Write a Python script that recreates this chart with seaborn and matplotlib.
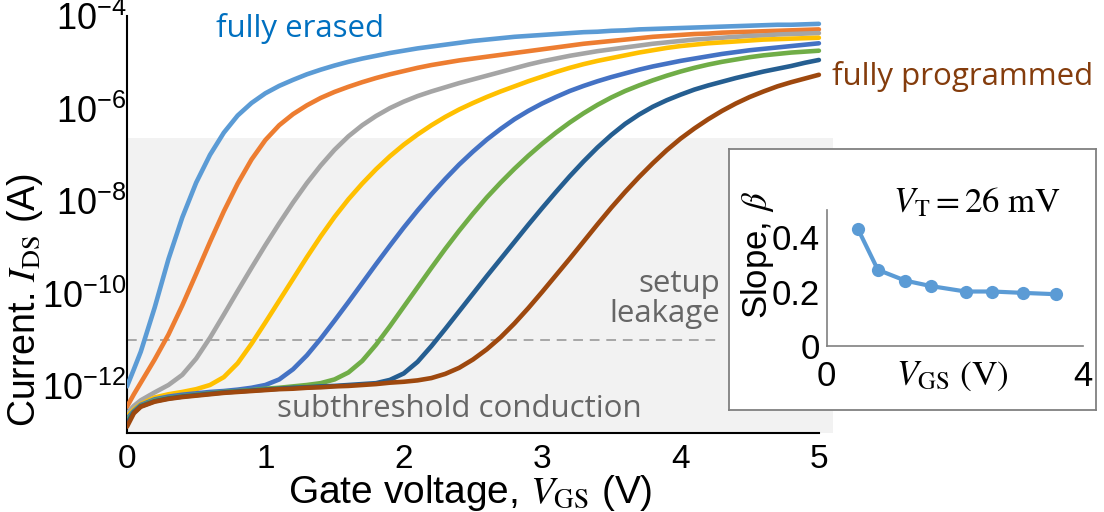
import numpy as np
import pandas as pd
import matplotlib
matplotlib.use("Agg")
import matplotlib.pyplot as plt
import seaborn as sns
from matplotlib.ticker import NullLocator

# ---------------------------------------------------------------- data
# gate sweep (V): one extra point at 0.05 V, then 0.1 V steps
vgs = np.concatenate([[0.0, 0.05], np.linspace(0.1, 5.0, 50)])

# log10 of drain current (A) for each programming state
log_ids_erased = [-12.0, -11.63, -11.25, -10.3, -9.25, -8.35, -7.6, -7.0, -6.52, -6.15, -5.88,
                  -5.67, -5.51, -5.38, -5.26, -5.16, -5.07, -4.99, -4.92, -4.86, -4.80,
                  -4.75, -4.70, -4.66, -4.62, -4.58, -4.54, -4.51, -4.48, -4.45, -4.43,
                  -4.41, -4.39, -4.37, -4.35, -4.34, -4.32, -4.31, -4.29, -4.28, -4.27,
                  -4.26, -4.25, -4.24, -4.23, -4.22, -4.21, -4.20, -4.19, -4.19, -4.18, -4.17]
log_ids_s2 = [-12.44, -12.17, -11.92, -11.42, -10.88, -10.25, -9.57, -8.88, -8.22, -7.62, -7.1,
              -6.68, -6.36, -6.12, -5.93, -5.77, -5.64, -5.53, -5.43, -5.34, -5.26,
              -5.19, -5.12, -5.06, -5.01, -4.96, -4.92, -4.88, -4.84, -4.80, -4.76,
              -4.72, -4.68, -4.64, -4.60, -4.57, -4.54, -4.51, -4.48, -4.45, -4.43,
              -4.41, -4.39, -4.38, -4.36, -4.35, -4.34, -4.33, -4.32, -4.31, -4.30, -4.29]
log_ids_s3 = [-12.58, -12.42, -12.3, -12.13, -11.97, -11.75, -11.4, -10.95, -10.45, -9.94, -9.44,
              -8.95, -8.48, -8.03, -7.61, -7.23, -6.89, -6.6, -6.36, -6.16, -5.99,
              -5.85, -5.73, -5.63, -5.54, -5.45, -5.37, -5.29, -5.21, -5.13, -5.05,
              -4.98, -4.92, -4.86, -4.81, -4.76, -4.72, -4.68, -4.64, -4.60, -4.57,
              -4.54, -4.51, -4.49, -4.47, -4.45, -4.43, -4.42, -4.40, -4.39, -4.38, -4.37]
log_ids_s4 = [-12.65, -12.5, -12.38, -12.24, -12.17, -12.12, -12.06, -11.97, -11.8, -11.5, -11.08,
              -10.62, -10.15, -9.68, -9.21, -8.76, -8.34, -7.96, -7.62, -7.31, -7.03,
              -6.78, -6.56, -6.36, -6.18, -6.02, -5.88, -5.75, -5.63, -5.52, -5.41,
              -5.31, -5.21, -5.12, -5.04, -4.97, -4.91, -4.85, -4.79, -4.74, -4.69,
              -4.65, -4.62, -4.59, -4.57, -4.55, -4.53, -4.51, -4.50, -4.49, -4.48, -4.47]
log_ids_s5 = [-12.7, -12.53, -12.4, -12.28, -12.22, -12.18, -12.15, -12.12, -12.1, -12.07, -12.03,
              -11.97, -11.85, -11.63, -11.33, -10.97, -10.58, -10.18, -9.77, -9.36, -8.96,
              -8.57, -8.2, -7.85, -7.52, -7.21, -6.93, -6.67, -6.44, -6.23, -6.05,
              -5.89, -5.75, -5.62, -5.51, -5.41, -5.32, -5.24, -5.16, -5.09, -5.03,
              -4.97, -4.92, -4.87, -4.82, -4.78, -4.74, -4.71, -4.68, -4.65, -4.62, -4.59]
log_ids_s6 = [-12.75, -12.55, -12.42, -12.3, -12.25, -12.21, -12.18, -12.15, -12.12, -12.1, -12.08,
              -12.05, -12.03, -12.0, -11.97, -11.93, -11.85, -11.7, -11.45, -11.1, -10.7,
              -10.28, -9.86, -9.44, -9.03, -8.64, -8.27, -7.92, -7.6, -7.3, -7.02,
              -6.76, -6.52, -6.3, -6.1, -5.92, -5.76, -5.62, -5.5, -5.39, -5.29,
              -5.2, -5.12, -5.05, -4.99, -4.94, -4.89, -4.85, -4.82, -4.79, -4.77, -4.75]
log_ids_s7 = [-12.8, -12.56, -12.43, -12.32, -12.26, -12.22, -12.19, -12.16, -12.13, -12.11, -12.09,
              -12.07, -12.05, -12.03, -12.02, -12.0, -11.99, -11.97, -11.95, -11.93, -11.86,
              -11.72, -11.47, -11.13, -10.76, -10.38, -10.0, -9.62, -9.25, -8.88, -8.51,
              -8.15, -7.8, -7.46, -7.14, -6.84, -6.57, -6.33, -6.13, -5.96, -5.82,
              -5.7, -5.59, -5.5, -5.42, -5.34, -5.27, -5.2, -5.14, -5.08, -5.01, -4.95]
log_ids_programmed = [-12.87, -12.58, -12.44, -12.33, -12.27, -12.23, -12.2, -12.17, -12.14, -12.12, -12.1,
                      -12.08, -12.06, -12.05, -12.03, -12.02, -12.0, -11.99, -11.97, -11.95, -11.92,
                      -11.9, -11.87, -11.82, -11.73, -11.6, -11.42, -11.2, -10.94, -10.64, -10.31,
                      -9.96, -9.6, -9.24, -8.87, -8.5, -8.14, -7.8, -7.48, -7.18, -6.9,
                      -6.65, -6.43, -6.23, -6.05, -5.89, -5.75, -5.63, -5.52, -5.43, -5.35, -5.27]

states = ["erased", "s2", "s3", "s4", "s5", "s6", "s7", "programmed"]
state_colors = ["#5B9BD5", "#ED7D31", "#A5A5A5", "#FFC000",
                "#4472C4", "#70AD47", "#255E91", "#9E480E"]
curves = [log_ids_erased, log_ids_s2, log_ids_s3, log_ids_s4,
          log_ids_s5, log_ids_s6, log_ids_s7, log_ids_programmed]

# subthreshold slope extracted per state
beta_vgs = [0.49, 0.80, 1.23, 1.63, 2.17, 2.59, 3.06, 3.59]
beta = [0.43, 0.28, 0.24, 0.22, 0.20, 0.20, 0.195, 0.19]

leakage_floor = 1e-11
subthreshold_top = 2.3e-7

# ---------------------------------------------------------------- style
sns.set_theme(style="white")
plt.rcParams["font.family"] = ["Liberation Sans", "DejaVu Sans"]
plt.rcParams["mathtext.fontset"] = "stix"
plt.rcParams["axes.linewidth"] = 1.5

df = pd.concat(
    [pd.DataFrame({"vgs": vgs, "ids": 10.0 ** np.asarray(c), "state": s})
     for s, c in zip(states, curves)],
    ignore_index=True,
)

fig = plt.figure(figsize=(11.04, 5.12), dpi=100)
ax = fig.add_axes([0.1150, 0.1549, 0.6393, 0.8139])

ax.set_yscale("log")
ax.set_xlim(0, 5.1)
ax.set_ylim(1e-13, 1e-4)

# shaded subthreshold band and setup leakage level
ax.axhspan(1e-13, subthreshold_top, color="#F2F2F2", zorder=0, lw=0)
ax.plot([0, 4.3], [leakage_floor, leakage_floor], ls=(0, (5, 3.5)),
        color="#A6A6A6", lw=1.4, zorder=1)

sns.lineplot(data=df, x="vgs", y="ids", hue="state", hue_order=states,
             palette=state_colors, lw=3.3, legend=False, ax=ax,
             solid_capstyle="round", solid_joinstyle="round", zorder=3)

for side in ("top", "right"):
    ax.spines[side].set_visible(False)
ax.spines["bottom"].set_bounds(0, 5)
for side in ("left", "bottom"):
    ax.spines[side].set_color("black")

decades = np.arange(-13, -3)
ax.set_yticks(10.0 ** decades)
ax.set_yticklabels([rf"$\mathregular{{10^{{{d}}}}}$" if d % 2 == 0 else ""
                    for d in decades])
ax.yaxis.set_minor_locator(NullLocator())
ax.set_xticks([0, 1, 2, 3, 4, 5])
ax.set_xticklabels(["0", "1", "2", "3", "4", "5"])
ax.tick_params(axis="y", direction="in", length=9, width=1.5, labelsize=26,
               pad=0.5, color="black", labelcolor="black")
ax.tick_params(axis="x", direction="in", length=4, width=1.5, labelsize=24,
               pad=8, color="black", labelcolor="black")

ax.set_xlabel(r"Gate voltage, $V_{\mathrm{GS}}$ (V)", fontsize=28, color="black")
ax.set_ylabel(r"Current. $I_{\mathrm{DS}}$ (A)", fontsize=27, color="black")
ax.xaxis.label.set_va("baseline")
ax.xaxis.set_label_coords(0.486, -0.169)
ax.yaxis.label.set_va("baseline")
ax.yaxis.set_label_coords(-0.1305, 0.318)

note_font = ["Open Sans", "DejaVu Sans"]
fig.text(216 / 1104, 1 - 36.7 / 512, "fully erased", color="#0070C0",
         fontsize=22.5, family=note_font, ha="left", va="baseline")
fig.text(831.7 / 1104, 1 - 85 / 512, "fully programmed", color="#843C0C",
         fontsize=22.5, family=note_font, ha="left", va="baseline")
fig.text(720 / 1104, 1 - 291.7 / 512, "setup", color="#666666",
         fontsize=22.5, family=note_font, ha="right", va="baseline")
fig.text(720 / 1104, 1 - 321.7 / 512, "leakage", color="#666666",
         fontsize=22.5, family=note_font, ha="right", va="baseline")
fig.text(277 / 1104, 1 - 416.7 / 512, "subthreshold conduction", color="#666666",
         fontsize=22.5, family=note_font, ha="left", va="baseline")

# ---------------------------------------------------------------- inset
box = fig.add_axes([0.6603, 0.1992, 0.3324, 0.5092])
box.set_facecolor("white")
box.set_xticks([])
box.set_yticks([])
for sp in box.spines.values():
    sp.set_color("#808080")
    sp.set_linewidth(1.3)

ins = fig.add_axes([0.7488, 0.3248, 0.2319, 0.2646])
ins.set_facecolor("none")
sns.lineplot(x=beta_vgs, y=beta, ax=ins, color="#5B9BD5", lw=3,
             marker="o", markersize=9.5, markeredgewidth=0)
ins.set_xlim(0, 4)
ins.set_ylim(0, 0.5)
for side in ("top", "right"):
    ins.spines[side].set_visible(False)
for side in ("left", "bottom"):
    ins.spines[side].set_color("#808080")
    ins.spines[side].set_linewidth(1.2)
ins.set_xticks([0, 2, 4])
ins.set_xticklabels(["0", "", "4"])
ins.set_yticks([0, 0.2, 0.4])
ins.set_yticklabels(["0", "0.2", "0.4"])
ins.tick_params(axis="x", direction="in", length=5, width=1.2, color="#808080",
                labelsize=25, pad=10, labelcolor="black")
ins.tick_params(axis="y", direction="out", length=4, width=1.2, color="#808080",
                labelsize=25, pad=1, labelcolor="black")
ins.text(-0.272, 0.669, r"Slope, $\beta$", rotation=90, transform=ins.transAxes,
         ha="center", va="center", fontsize=25, color="black")
ins.text(0.259, 0.989, r"$V_{\mathrm{T}} = 26\ \mathrm{mV}$", transform=ins.transAxes,
         ha="left", va="baseline", fontsize=25, color="black")
ins.text(0.49, -0.29, r"$V_{\mathrm{GS}}\ \mathrm{(V)}$", transform=ins.transAxes,
         ha="center", va="baseline", fontsize=25.5, color="black")

fig.savefig("out.png", dpi=100)
